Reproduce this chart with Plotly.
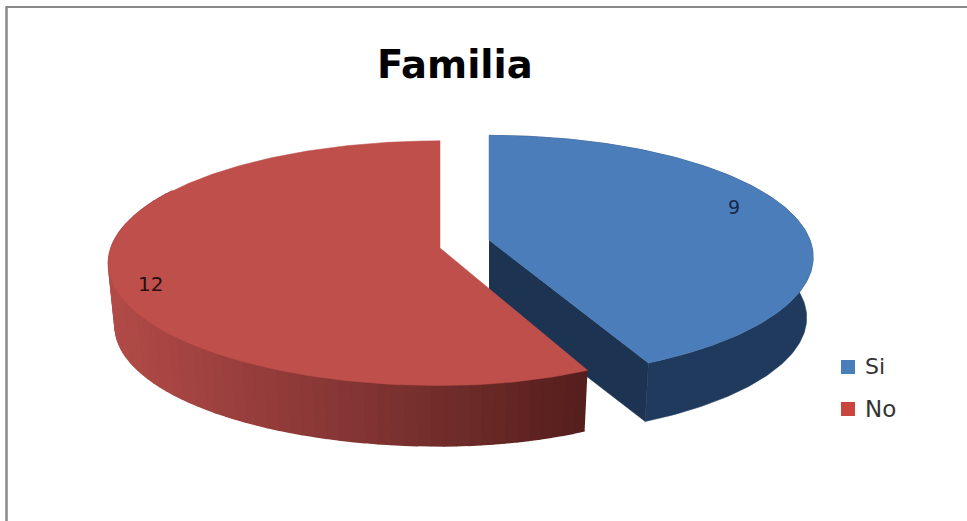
import numpy as np
import plotly.graph_objects as go

# Chart data
title = "Familia"
categories = ["Si", "No"]
values = [9, 12]

BLUE_TOP, BLUE_SIDE, BLUE_CUT = "#4b7dbb", "#1f3a5c", "#1c3452"
RED_TOP = "#bf4f4b"
WIDTH, HEIGHT = 967, 521

angles = np.cumsum([0] + values) / sum(values) * 2 * np.pi


def project(theta, apex, a_left, a_right, b, k):
    """Perspective projection of a unit-disc rim point onto the canvas."""
    u, v = np.sin(theta), np.cos(theta)
    w = 1 + k * v
    a = np.where(u > 0, a_right, a_left)
    return apex[0] + a * u / w, apex[1] - b * v / w


def lower(x, y, apex, depth=61, shrink=0.98):
    """Rim of the disc's underside, slightly smaller because it sits farther away."""
    return apex[0] + shrink * (x - apex[0]), apex[1] + depth + shrink * (y - apex[1])


def polygon(xs, ys, color, edge=0.5):
    return go.Scatter(x=list(xs), y=list(ys), mode="lines", fill="toself", fillcolor=color,
                      line=dict(color=color, width=edge), hoverinfo="skip", showlegend=False)


def lerp_color(t, stops):
    pos = [s[0] for s in stops]
    rgb = [np.interp(t, pos, [s[1][i] for s in stops]) for i in range(3)]
    return "rgb({:.0f},{:.0f},{:.0f})".format(*rgb)


fig = go.Figure()

# Si slice: cut face, outer wall, then top
blue = dict(apex=(489, 240), a_left=321, a_right=321, b=119.3, k=0.14)
th = np.linspace(angles[0], angles[1], 160)
bx, by = project(th, **blue)
apx, apy = blue["apex"]
lbx, lby = lower(bx, by, blue["apex"])
la = lower(np.array([apx]), np.array([apy]), blue["apex"])
fig.add_trace(polygon([apx, bx[-1], lbx[-1], la[0][0]], [apy, by[-1], lby[-1], la[1][0]], BLUE_CUT))
fig.add_trace(polygon(np.r_[bx, lbx[::-1]], np.r_[by, lby[::-1]], BLUE_SIDE))
fig.add_trace(polygon(np.r_[apx, bx, apx], np.r_[apy, by, apy], BLUE_TOP))

# No slice: outer wall in shaded strips, then top
red = dict(apex=(440, 248), a_left=329, a_right=302, b=120.5, k=0.1243)
shade = [(0.0, (178, 75, 72)), (0.35, (146, 60, 58)), (0.65, (118, 47, 45)), (1.0, (84, 30, 28))]
edges = np.linspace(angles[1], np.deg2rad(300), 71)
for t0, t1 in zip(edges[:-1], edges[1:]):
    seg = np.linspace(t0, t1, 4)
    sx, sy = project(seg, **red)
    lx, ly = lower(sx, sy, red["apex"], depth=63)
    frac = (588 - sx.mean()) / (588 - 107)
    # Strips are edged in their own colour so neighbours overlap without seams
    fig.add_trace(polygon(np.r_[sx, lx[::-1]], np.r_[sy, ly[::-1]], lerp_color(1 - frac, shade), edge=1.6))

th = np.linspace(angles[1], angles[2], 240)
rx, ry = project(th, **red)
rax, ray = red["apex"]
fig.add_trace(polygon(np.r_[rax, rx, rax], np.r_[ray, ry, ray], RED_TOP))

# Legend swatches
fig.add_trace(go.Scatter(x=[848, 848], y=[367, 409], mode="markers", hoverinfo="skip", showlegend=False,
                         marker=dict(symbol="square", size=14, color=["#4a7ebb", "#c8443f"])))

annotations = [
    dict(x=454.5, y=64, text=f"<b>{title}</b>", font=dict(family="DejaVu Sans", size=38.5, color="#000000")),
    dict(x=734, y=207, text=str(values[0]), font=dict(family="DejaVu Sans", size=19, color="#13294b")),
    dict(x=150, y=284, text=str(values[1]), font=dict(family="DejaVu Sans", size=20, color="#2a1010")),
    dict(x=863, y=366, text=categories[0], xanchor="left", font=dict(family="DejaVu Sans", size=22, color="#333333")),
    dict(x=863, y=409, text=categories[1], xanchor="left", font=dict(family="DejaVu Sans", size=23, color="#333333")),
]
for a in annotations:
    a.update(xref="x", yref="y", showarrow=False)

# Frame along the top and left edges only
frame = [
    dict(type="line", x0=6.5, x1=6.5, y0=6, y1=HEIGHT, line=dict(color="#8a8a8a", width=2.5)),
    dict(type="line", x0=6, x1=WIDTH, y0=7, y1=7, line=dict(color="#8a8a8a", width=2)),
]

fig.update_layout(
    width=WIDTH, height=HEIGHT, margin=dict(l=0, r=0, t=0, b=0),
    paper_bgcolor="white", plot_bgcolor="white", showlegend=False,
    xaxis=dict(range=[0, WIDTH], visible=False, fixedrange=True),
    yaxis=dict(range=[HEIGHT, 0], visible=False, fixedrange=True),
    annotations=annotations, shapes=frame,
)
fig.write_html("out.html", config=dict(displayModeBar=False))
